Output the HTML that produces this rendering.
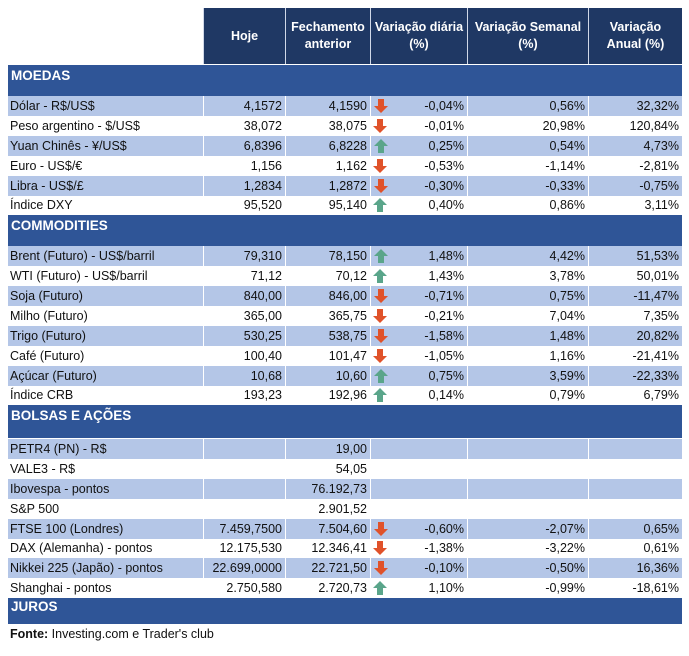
<!DOCTYPE html>
<html><head><meta charset="utf-8"><style>
body{margin:0;width:689px;height:656px;background:#fff;position:relative;font-family:"Liberation Sans",sans-serif;font-size:12.5px;color:#111;overflow:hidden}
.hd{position:absolute;top:8px;height:56px;background:#1f3864;color:#fff;font-weight:bold;font-size:12.5px;display:flex;align-items:center;justify-content:center;text-align:center;line-height:17px;box-sizing:border-box;border-left:1px solid #d0d8e8}
.sec{position:absolute;left:8px;width:674px;background:#2f5597;color:#fff;font-weight:bold;font-size:13.5px;box-sizing:border-box;padding:3px 0 0 3px;border-top:1px solid #fff}
.r{position:absolute;left:8px;width:674px;height:20px;line-height:20px}
.r.a{background:#b4c6e7}
.r div{position:absolute;top:0;height:20px;box-sizing:border-box;white-space:nowrap}
.r.a div{border-left:1px solid #fff}
.c1{left:0;width:195px;padding-left:2px;border-left:none!important}
.c2{left:195px;width:82px;text-align:right;padding-right:3px}
.c3{left:277px;width:85px;text-align:right;padding-right:3px}
.c4{left:362px;width:97px;text-align:right;padding-right:3px}
.c5{left:459px;width:121px;text-align:right;padding-right:3px}
.c6{left:580px;width:94px;text-align:right;padding-right:3px}
.dn,.up{position:absolute;left:3px;top:3px;width:14px;height:14px}
</style></head><body>
<div class="hd" style="left:203px;width:82px">Hoje</div>
<div class="hd" style="left:285px;width:85px">Fechamento<br>anterior</div>
<div class="hd" style="left:370px;width:97px">Variação diária<br>(%)</div>
<div class="hd" style="left:467px;width:121px">Variação Semanal<br>(%)</div>
<div class="hd" style="left:588px;width:94px">Variação<br>Anual (%)</div>

<svg width="0" height="0" style="position:absolute"><defs>
<g id="d"><path d="M4 0h6v7h4l-7 7-7-7h4z" fill="#e0522a"/></g>
<g id="u"><path d="M7 0l7 7h-4v7h-6v-7h-4z" fill="#5aa58a"/></g>
</defs></svg>

<div class="sec" style="top:64px;height:32px">MOEDAS</div>
<div class="r a" style="top:96px"><div class="c1">Dólar - R$/US$</div><div class="c2">4,1572</div><div class="c3">4,1590</div><div class="c4"><svg class="dn"><use href="#d"/></svg>-0,04%</div><div class="c5">0,56%</div><div class="c6">32,32%</div></div>
<div class="r" style="top:116px"><div class="c1">Peso argentino - $/US$</div><div class="c2">38,072</div><div class="c3">38,075</div><div class="c4"><svg class="dn"><use href="#d"/></svg>-0,01%</div><div class="c5">20,98%</div><div class="c6">120,84%</div></div>
<div class="r a" style="top:136px"><div class="c1">Yuan Chinês - ¥/US$</div><div class="c2">6,8396</div><div class="c3">6,8228</div><div class="c4"><svg class="up"><use href="#u"/></svg>0,25%</div><div class="c5">0,54%</div><div class="c6">4,73%</div></div>
<div class="r" style="top:156px"><div class="c1">Euro - US$/€</div><div class="c2">1,156</div><div class="c3">1,162</div><div class="c4"><svg class="dn"><use href="#d"/></svg>-0,53%</div><div class="c5">-1,14%</div><div class="c6">-2,81%</div></div>
<div class="r a" style="top:176px"><div class="c1">Libra - US$/£</div><div class="c2">1,2834</div><div class="c3">1,2872</div><div class="c4"><svg class="dn"><use href="#d"/></svg>-0,30%</div><div class="c5">-0,33%</div><div class="c6">-0,75%</div></div>
<div class="r" style="top:195px"><div class="c1">Índice DXY</div><div class="c2">95,520</div><div class="c3">95,140</div><div class="c4"><svg class="up"><use href="#u"/></svg>0,40%</div><div class="c5">0,86%</div><div class="c6">3,11%</div></div>

<div class="sec" style="top:214px;height:32px">COMMODITIES</div>
<div class="r a" style="top:246px"><div class="c1">Brent (Futuro) - US$/barril</div><div class="c2">79,310</div><div class="c3">78,150</div><div class="c4"><svg class="up"><use href="#u"/></svg>1,48%</div><div class="c5">4,42%</div><div class="c6">51,53%</div></div>
<div class="r" style="top:266px"><div class="c1">WTI (Futuro) - US$/barril</div><div class="c2">71,12</div><div class="c3">70,12</div><div class="c4"><svg class="up"><use href="#u"/></svg>1,43%</div><div class="c5">3,78%</div><div class="c6">50,01%</div></div>
<div class="r a" style="top:286px"><div class="c1">Soja (Futuro)</div><div class="c2">840,00</div><div class="c3">846,00</div><div class="c4"><svg class="dn"><use href="#d"/></svg>-0,71%</div><div class="c5">0,75%</div><div class="c6">-11,47%</div></div>
<div class="r" style="top:306px"><div class="c1">Milho (Futuro)</div><div class="c2">365,00</div><div class="c3">365,75</div><div class="c4"><svg class="dn"><use href="#d"/></svg>-0,21%</div><div class="c5">7,04%</div><div class="c6">7,35%</div></div>
<div class="r a" style="top:326px"><div class="c1">Trigo (Futuro)</div><div class="c2">530,25</div><div class="c3">538,75</div><div class="c4"><svg class="dn"><use href="#d"/></svg>-1,58%</div><div class="c5">1,48%</div><div class="c6">20,82%</div></div>
<div class="r" style="top:346px"><div class="c1">Café (Futuro)</div><div class="c2">100,40</div><div class="c3">101,47</div><div class="c4"><svg class="dn"><use href="#d"/></svg>-1,05%</div><div class="c5">1,16%</div><div class="c6">-21,41%</div></div>
<div class="r a" style="top:366px"><div class="c1">Açúcar (Futuro)</div><div class="c2">10,68</div><div class="c3">10,60</div><div class="c4"><svg class="up"><use href="#u"/></svg>0,75%</div><div class="c5">3,59%</div><div class="c6">-22,33%</div></div>
<div class="r" style="top:385px"><div class="c1">Índice CRB</div><div class="c2">193,23</div><div class="c3">192,96</div><div class="c4"><svg class="up"><use href="#u"/></svg>0,14%</div><div class="c5">0,79%</div><div class="c6">6,79%</div></div>

<div class="sec" style="top:404px;height:34px">BOLSAS E AÇÕES</div>
<div class="r a" style="top:439px"><div class="c1">PETR4 (PN) - R$</div><div class="c2"></div><div class="c3">19,00</div><div class="c4"></div><div class="c5"></div><div class="c6"></div></div>
<div class="r" style="top:459px"><div class="c1">VALE3 - R$</div><div class="c3">54,05</div></div>
<div class="r a" style="top:479px"><div class="c1">Ibovespa - pontos</div><div class="c2"></div><div class="c3">76.192,73</div><div class="c4"></div><div class="c5"></div><div class="c6"></div></div>
<div class="r" style="top:499px"><div class="c1">S&amp;P 500</div><div class="c3">2.901,52</div></div>
<div class="r a" style="top:519px"><div class="c1">FTSE 100 (Londres)</div><div class="c2">7.459,7500</div><div class="c3">7.504,60</div><div class="c4"><svg class="dn"><use href="#d"/></svg>-0,60%</div><div class="c5">-2,07%</div><div class="c6">0,65%</div></div>
<div class="r" style="top:538px"><div class="c1">DAX (Alemanha) - pontos</div><div class="c2">12.175,530</div><div class="c3">12.346,41</div><div class="c4"><svg class="dn"><use href="#d"/></svg>-1,38%</div><div class="c5">-3,22%</div><div class="c6">0,61%</div></div>
<div class="r a" style="top:558px"><div class="c1">Nikkei 225 (Japão) - pontos</div><div class="c2">22.699,0000</div><div class="c3">22.721,50</div><div class="c4"><svg class="dn"><use href="#d"/></svg>-0,10%</div><div class="c5">-0,50%</div><div class="c6">16,36%</div></div>
<div class="r" style="top:578px"><div class="c1">Shanghai - pontos</div><div class="c2">2.750,580</div><div class="c3">2.720,73</div><div class="c4"><svg class="up"><use href="#u"/></svg>1,10%</div><div class="c5">-0,99%</div><div class="c6">-18,61%</div></div>

<div class="sec" style="top:597px;height:27px;padding-top:1px">JUROS</div>
<div style="position:absolute;left:10px;top:627px;font-size:12.5px"><b>Fonte:</b> Investing.com e Trader's club</div>
</body></html>
